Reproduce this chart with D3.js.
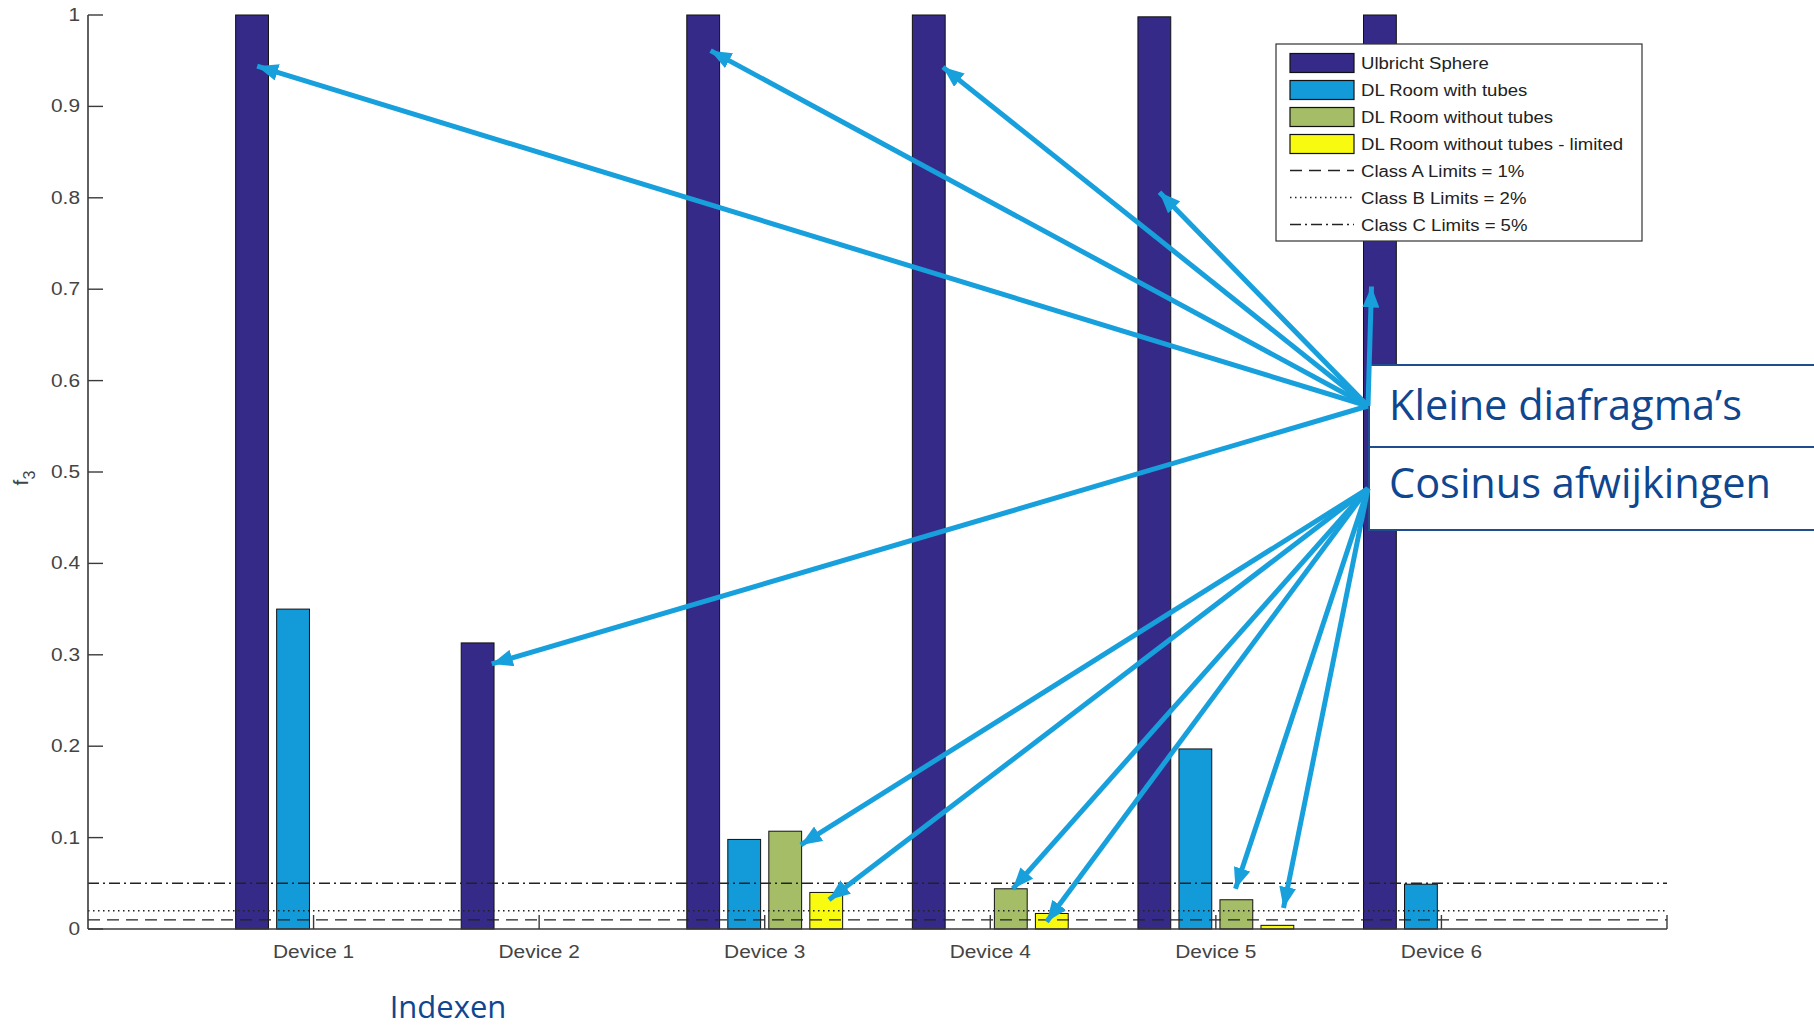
<!DOCTYPE html>
<html><head><meta charset="utf-8">
<script src="https://cdn.jsdelivr.net/npm/d3@7"></script>
<style>
html,body{margin:0;padding:0;background:#fff;}
svg{display:block;}
</style></head>
<body>
<svg id="chart" width="1814" height="1029"></svg>
<script>
// ---------- data ----------
const categories = ["Device 1","Device 2","Device 3","Device 4","Device 5","Device 6"];
const seriesNames = ["Ulbricht Sphere","DL Room with tubes","DL Room without tubes","DL Room without tubes - limited"];
const ulbricht      = [1.000, 0.313, 1.000, 1.000, 0.998, 1.000];
const withTubes     = [0.350, 0.000, 0.098, 0.000, 0.197, 0.049];
const withoutTubes  = [0.000, 0.000, 0.107, 0.044, 0.032, 0.000];
const limitedTubes  = [0.000, 0.000, 0.040, 0.017, 0.004, 0.000];
const limitNames = ["Class A Limits = 1%","Class B Limits = 2%","Class C Limits = 5%"];
const limitValues = [0.01, 0.02, 0.05];
const yTicks = [0,0.1,0.2,0.3,0.4,0.5,0.6,0.7,0.8,0.9,1];
// annotation arrow targets in data coordinates (x in category units, y in f3)
const kleineTargetX = [0.75, 1.79, 2.76, 3.79, 4.75, 5.69];
const kleineTargetY = [0.944, 0.290, 0.961, 0.943, 0.806, 0.703];
const cosinusTargetX = [3.16, 3.285, 4.10, 4.25, 5.087, 5.30];
const cosinusTargetY = [0.092, 0.032, 0.044, 0.008, 0.044, 0.023];
const annotationTexts = ["Kleine diafragma\u2019s","Cosinus afwijkingen"];
const xLabel = "Indexen";

// ---------- layout ----------
const svg = d3.select("#chart");
const colors = ["#352A87","#129BD8","#A5BD66","#F8FA10"];
const series = [ulbricht, withTubes, withoutTubes, limitedTubes];
const SX = 1.16; // horizontal stretch of the original figure text
const axisCol = "#3a3a3a", textCol = "#444";

const x = d3.scaleLinear().domain([0, 7]).range([88, 1667]);
const y = d3.scaleLinear().domain([0, 1]).range([929, 15]);

const nS = series.length;
const groupW = Math.min(0.8, nS/(nS+1.5));
const pitch = groupW / nS;
const barW = pitch * 0.8;
const offset = i => (i - (nS-1)/2) * pitch;

function stext(g, px, py, txt, size, anchor){
  return g.append("text")
    .attr("transform", `translate(${px},${py}) scale(${SX},1)`)
    .attr("text-anchor", anchor || "start")
    .attr("font-family", "'Liberation Sans', Arial, Helvetica, sans-serif")
    .attr("font-size", size)
    .attr("fill", textCol)
    .text(txt);
}

// bars
const gBars = svg.append("g");
series.forEach((vals, si) => {
  gBars.selectAll(null)
    .data(vals.map((v, i) => ({v, i})).filter(d => d.v > 0))
    .enter().append("rect")
    .attr("x", d => x(d.i + 1 + offset(si) - barW/2))
    .attr("width", d => x(barW) - x(0))
    .attr("y", d => y(d.v))
    .attr("height", d => y(0) - y(d.v))
    .attr("fill", colors[si])
    .attr("stroke", "#111")
    .attr("stroke-width", 1);
});

// limit lines
const dashes = ["12,7", "1.5,3.5", "11,4,2,4"];
const gLim = svg.append("g");
limitValues.forEach((v, i) => {
  gLim.append("line")
    .attr("x1", x(0)).attr("x2", x(7))
    .attr("y1", y(v)).attr("y2", y(v))
    .attr("stroke", "#222").attr("stroke-width", 1.4)
    .attr("stroke-dasharray", dashes[i]);
});

// axes
const gAx = svg.append("g");
gAx.append("line").attr("x1", x(0)).attr("x2", x(0)).attr("y1", y(1)).attr("y2", y(0))
  .attr("stroke", axisCol).attr("stroke-width", 1.6);
gAx.append("line").attr("x1", x(0)).attr("x2", x(7)).attr("y1", y(0)).attr("y2", y(0))
  .attr("stroke", axisCol).attr("stroke-width", 1.6);
yTicks.forEach(t => {
  gAx.append("line").attr("x1", x(0)).attr("x2", x(0)+15).attr("y1", y(t)).attr("y2", y(t))
    .attr("stroke", axisCol).attr("stroke-width", 1.4);
  stext(gAx, 80, y(t) + 6, d3.format("")(t), 18, "end");
});
categories.forEach((c, i) => {
  gAx.append("line").attr("x1", x(i+1)).attr("x2", x(i+1)).attr("y1", y(0)).attr("y2", y(0)-14)
    .attr("stroke", axisCol).attr("stroke-width", 1.4);
  stext(gAx, x(i+1), 958, c, 18, "middle");
});
gAx.append("line").attr("x1", x(7)).attr("x2", x(7)).attr("y1", y(0)).attr("y2", y(0)-14)
  .attr("stroke", axisCol).attr("stroke-width", 1.4);

// y label f3
const yl = gAx.append("text")
  .attr("transform", "translate(28,478) rotate(-90)")
  .attr("text-anchor", "middle")
  .attr("font-family", "'Liberation Sans', Arial, sans-serif")
  .attr("font-size", 21).attr("fill", textCol);
yl.append("tspan").text("f");
yl.append("tspan").attr("font-size", 16).attr("dy", 7).text("3");

// legend
const gLeg = svg.append("g");
gLeg.append("rect").attr("x", 1276).attr("y", 44).attr("width", 366).attr("height", 197)
  .attr("fill", "#fff").attr("stroke", "#333").attr("stroke-width", 1.2);
const rowY = i => 62.5 + i * 27;
seriesNames.forEach((n, i) => {
  gLeg.append("rect").attr("x", 1290).attr("y", rowY(i) - 9).attr("width", 64).attr("height", 19)
    .attr("fill", colors[i]).attr("stroke", "#111").attr("stroke-width", 1.2);
  stext(gLeg, 1361, rowY(i) + 6, n, 16, "start").attr("fill", "#222");
});
limitNames.forEach((n, j) => {
  const i = j + 4;
  gLeg.append("line").attr("x1", 1290).attr("x2", 1354).attr("y1", rowY(i)).attr("y2", rowY(i))
    .attr("stroke", "#222").attr("stroke-width", 1.3).attr("stroke-dasharray", dashes[j]);
  stext(gLeg, 1361, rowY(i) + 6, n, 16, "start").attr("fill", "#222");
});

// annotation boxes
const boxCol = "#1F4E8E", annCol = "#0E4690", arrowCol = "#17A0DC";
const boxes = [{y0: 365, y1: 447}, {y0: 447, y1: 530}];
const gAnn = svg.append("g");
boxes.forEach((b, i) => {
  gAnn.append("rect").attr("x", 1369).attr("y", b.y0).attr("width", 460).attr("height", b.y1 - b.y0)
    .attr("fill", "#fff").attr("stroke", boxCol).attr("stroke-width", 2);
  gAnn.append("text").attr("x", 1389).attr("y", i === 0 ? 420 : 498)
    .attr("font-family", "'Open Sans', 'Noto Sans', sans-serif")
    .attr("font-size", 41.5).attr("fill", annCol).text(annotationTexts[i]);
});

// arrows
const defs = svg.append("defs");
defs.append("marker").attr("id", "ah").attr("markerUnits", "userSpaceOnUse")
  .attr("viewBox", "0 0 21 17").attr("refX", 21).attr("refY", 8.5)
  .attr("markerWidth", 21).attr("markerHeight", 17).attr("orient", "auto")
  .append("path").attr("d", "M0,0 L21,8.5 L0,17 Z").attr("fill", arrowCol);
const gArr = svg.append("g");
function arrows(ox, oy, tx, ty) {
  tx.forEach((xv, i) => {
    const ex = x(xv), ey = y(ty[i]);
    gArr.append("line").attr("x1", ox).attr("y1", oy).attr("x2", ex).attr("y2", ey)
      .attr("stroke", arrowCol).attr("stroke-width", 5).attr("stroke-linecap", "butt")
      .attr("marker-end", "url(#ah)");
  });
}
arrows(1368, (boxes[0].y0 + boxes[0].y1)/2, kleineTargetX, kleineTargetY);
arrows(1368, (boxes[1].y0 + boxes[1].y1)/2, cosinusTargetX, cosinusTargetY);

// x label
svg.append("text").attr("x", 448).attr("y", 1018).attr("text-anchor", "middle")
  .attr("font-family", "'Open Sans', 'Noto Sans', sans-serif")
  .attr("font-size", 31).attr("fill", annCol).text(xLabel);
</script>
</body></html>
